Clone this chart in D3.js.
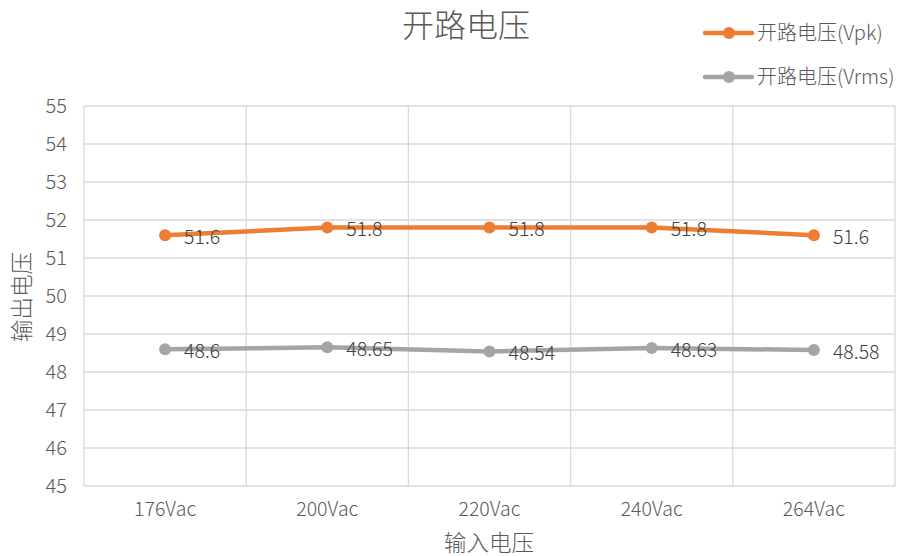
<!DOCTYPE html>
<html>
<head>
<meta charset="utf-8">
<script src="https://cdn.jsdelivr.net/npm/d3@7"></script>
<style>
  html, body { margin: 0; padding: 0; background: #fff; }
  svg { display: block; font-family: "Noto Sans CJK SC", "Liberation Sans", sans-serif; font-weight: 300; }
</style>
</head>
<body>
<svg id="chart" width="901" height="556"></svg>
<script>
// Input voltage categories and measured open-circuit voltages
const categories = ["176Vac", "200Vac", "220Vac", "240Vac", "264Vac"];
const vpk = [51.6, 51.8, 51.8, 51.8, 51.6];
const vrms = [48.6, 48.65, 48.54, 48.63, 48.58];
const yTicks = [45, 46, 47, 48, 49, 50, 51, 52, 53, 54, 55];
const seriesNames = ["开路电压(Vpk)", "开路电压(Vrms)"];
const titleText = "开路电压";
const xTitle = "输入电压";
const yTitle = "输出电压";

const series = [
  { name: seriesNames[0], values: vpk, color: "#ED7D31" },
  { name: seriesNames[1], values: vrms, color: "#A5A5A5" }
];

const svg = d3.select("#chart");
const plot = { left: 84, right: 895, top: 106, bottom: 486 };

const x = d3.scaleBand().domain(categories).range([plot.left, plot.right]).paddingInner(0).paddingOuter(0);
const y = d3.scaleLinear().domain([45, 55]).range([plot.bottom, plot.top]);

// Horizontal gridlines
svg.append("g").selectAll("line").data(yTicks).join("line")
  .attr("x1", plot.left).attr("x2", plot.right)
  .attr("y1", d => y(d)).attr("y2", d => y(d))
  .attr("stroke", "#D9D9D9").attr("stroke-width", 1.3);

// Vertical gridlines at category boundaries
const bounds = categories.map(c => x(c)).concat([x(categories[categories.length - 1]) + x.bandwidth()]);
svg.append("g").selectAll("line").data(bounds).join("line")
  .attr("x1", d => d).attr("x2", d => d)
  .attr("y1", plot.top).attr("y2", plot.bottom)
  .attr("stroke", "#D9D9D9").attr("stroke-width", 1.3);

// Y tick labels
svg.append("g").selectAll("text").data(yTicks).join("text")
  .attr("x", 67).attr("y", d => y(d))
  .attr("dy", "0.35em")
  .attr("text-anchor", "end")
  .attr("font-size", 20).attr("fill", "#595959")
  .text(d => d);

// X tick labels
svg.append("g").selectAll("text").data(categories).join("text")
  .attr("x", d => x(d) + x.bandwidth() / 2).attr("y", 509)
  .attr("dy", "0.35em")
  .attr("text-anchor", "middle")
  .attr("font-size", 19.5).attr("fill", "#595959")
  .text(d => d);

// Series lines, markers and value labels
const line = d3.line()
  .x((d, i) => x(categories[i]) + x.bandwidth() / 2)
  .y(d => y(d));

series.forEach(s => {
  const g = svg.append("g");
  g.append("path")
    .attr("d", line(s.values))
    .attr("fill", "none")
    .attr("stroke", s.color)
    .attr("stroke-width", 4.5)
    .attr("stroke-linejoin", "round")
    .attr("stroke-linecap", "round");
  g.selectAll("circle").data(s.values).join("circle")
    .attr("cx", (d, i) => x(categories[i]) + x.bandwidth() / 2)
    .attr("cy", d => y(d))
    .attr("r", 6)
    .attr("fill", s.color);
  g.selectAll("text").data(s.values).join("text")
    .attr("x", (d, i) => x(categories[i]) + x.bandwidth() / 2 + 19)
    .attr("y", d => y(d) + 2)
    .attr("dy", "0.35em")
    .attr("font-size", 19.5).attr("fill", "#404040")
    .text(d => d);
});

// Title
svg.append("text")
  .attr("x", 466).attr("y", 26).attr("dy", "0.35em")
  .attr("text-anchor", "middle")
  .attr("font-size", 32).attr("fill", "#595959")
  .text(titleText);

// Axis titles
svg.append("text")
  .attr("x", 489).attr("y", 543).attr("dy", "0.35em")
  .attr("text-anchor", "middle")
  .attr("font-size", 22.5).attr("fill", "#595959")
  .text(xTitle);

svg.append("text")
  .attr("transform", "translate(22,297) rotate(-90)")
  .attr("dy", "0.35em")
  .attr("text-anchor", "middle")
  .attr("font-size", 22.5).attr("fill", "#595959")
  .text(yTitle);

// Legend
const legend = svg.append("g").selectAll("g").data(series).join("g")
  .attr("transform", (d, i) => `translate(705,${33 + i * 44})`);
legend.append("line")
  .attr("x1", 0).attr("x2", 47)
  .attr("stroke", d => d.color).attr("stroke-width", 4.5)
  .attr("stroke-linecap", "round");
legend.append("circle")
  .attr("cx", 24).attr("r", 6)
  .attr("fill", d => d.color);
legend.append("text")
  .attr("x", 52).attr("dy", "0.35em")
  .attr("font-size", 20).attr("fill", "#595959")
  .text(d => d.name);
</script>
</body>
</html>
